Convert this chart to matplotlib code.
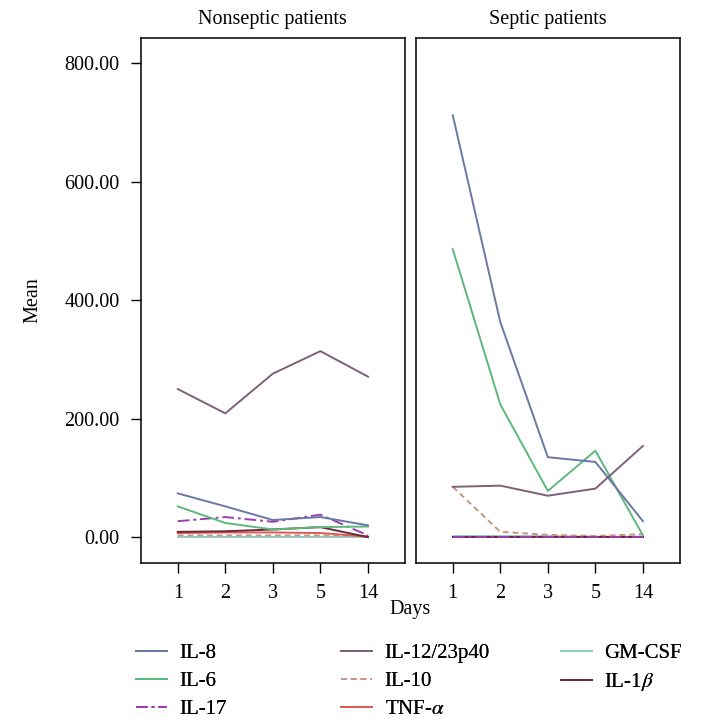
import matplotlib
matplotlib.use("Agg")
import matplotlib.pyplot as plt

plt.rcParams['font.family'] = ['Liberation Serif', 'DejaVu Serif']
plt.rcParams['mathtext.fontset'] = 'stix'

days = ["1", "2", "3", "5", "14"]

# mean values, nonseptic group
non_il8 = [74, 52, 29, 34, 20]
non_il6 = [52, 24, 13, 17, 18]
non_il17 = [27, 34, 26, 38, 3]
non_il12 = [250, 209, 276, 314, 271]
non_il10 = [3, 3, 3, 3, 2]
non_tnf = [7, 8, 8, 7, 1]
non_gmcsf = [1, 1, 1, 1, 1]
non_il1b = [9, 10, 13, 17, 0]

# septic group
sep_il8 = [712, 363, 135, 127, 27]
sep_il6 = [486, 224, 78, 146, 3]
sep_il17 = [1, 1, 1, 1, 1]
sep_il12 = [85, 87, 70, 82, 154]
sep_il10 = [85, 9, 4, 2, 5]
sep_tnf = [1, 1, 1, 1, 1]
sep_gmcsf = [2, 2, 2, 1, 1]
sep_il1b = [0, 0, 0, 0, 0]

names = ["IL-8", "IL-6", "IL-17", "IL-12/23p40", "IL-10", "TNF-$\\alpha$", "GM-CSF", "IL-1$\\beta$"]
colors = ["#6a78a6", "#5db87c", "#a03cb0", "#7e6078", "#c9957f", "#dc5a5a", "#92cdc4", "#6e2838"]
styles = ["-", "-", (0, (6, 2, 1.5, 2)), "-", (0, (3, 2)), "-", "-", "-"]

non = [non_il8, non_il6, non_il17, non_il12, non_il10, non_tnf, non_gmcsf, non_il1b]
sep = [sep_il8, sep_il6, sep_il17, sep_il12, sep_il10, sep_tnf, sep_gmcsf, sep_il1b]

fs = 14.5

fig = plt.figure(figsize=(7.06, 7.28), dpi=100)
ax1 = fig.add_axes([0.1993, 0.2271, 0.3744, 0.7203])
ax2 = fig.add_axes([0.5888, 0.2271, 0.3744, 0.7203])

x = range(len(days))
# draw the flat lines first so the big ones sit on top
order = [6, 4, 5, 7, 2, 1, 0, 3]
handles = {}
for ax, group in [(ax1, non), (ax2, sep)]:
    for i in order:
        h, = ax.plot(x, group[i], color=colors[i], linestyle=styles[i], lw=1.4)
        handles[i] = h
    ax.set_xlim(-0.78, 4.78)
    ax.set_ylim(-43, 842)
    ax.set_xticks(list(x))
    ax.set_xticklabels(days)
    ax.tick_params(axis='both', direction='out', length=7, width=1, labelsize=fs, pad=8)
    for s in ax.spines.values():
        s.set_linewidth(1.1)

ax1.set_yticks([0, 200, 400, 600, 800])
ax1.set_yticklabels(["0.00", "200.00", "400.00", "600.00", "800.00"])
ax2.set_yticks([])

ax1.set_title("Nonseptic patients", fontsize=fs, pad=10)
ax2.set_title("Septic patients", fontsize=fs, pad=10)
ax1.set_ylabel("Mean", fontsize=fs, labelpad=16)
fig.text(0.581, 0.163, "Days", ha='center', va='center', fontsize=fs)

# legend in three columns under the plots
cols = [[0, 1, 2], [3, 4, 5], [6, 7]]
xs = [0.192, 0.483, 0.794]
for c, xc in zip(cols, xs):
    lg = fig.legend([handles[i] for i in c], [names[i] for i in c],
                    loc='upper left', bbox_to_anchor=(xc, 0.116),
                    frameon=False, fontsize=15, handlelength=1.5,
                    handletextpad=0.6, labelspacing=0.4, borderpad=0, borderaxespad=0)
    fig.add_artist(lg)

fig.savefig("out.png", dpi=100)
